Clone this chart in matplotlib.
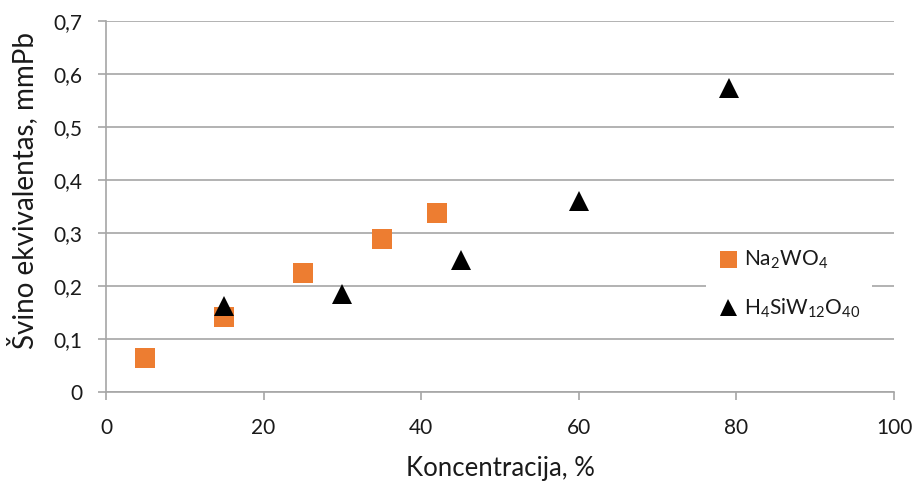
import matplotlib
matplotlib.use("Agg")
from matplotlib import pyplot as plt

# duomenys
na_x = [5, 15, 25, 35, 42]
na_y = [0.065, 0.142, 0.224, 0.289, 0.338]
h_x = [15, 30, 45, 60, 79]
h_y = [0.162, 0.184, 0.249, 0.361, 0.574]
y_ticks = [0, 0.1, 0.2, 0.3, 0.4, 0.5, 0.6, 0.7]
x_ticks = [0, 20, 40, 60, 80, 100]

plt.rcParams['font.family'] = ['Lato', 'DejaVu Sans']
plt.rcParams['mathtext.fontset'] = 'custom'
plt.rcParams['mathtext.rm'] = 'Lato'
plt.rcParams['mathtext.it'] = 'Lato:italic'
text_col = '#1a1a1a'
grid_col = '#a6a6a6'

fig = plt.figure(figsize=(9.16, 4.82), dpi=100)
ax = fig.add_axes([106 / 916, 90 / 482, 788 / 916, 371 / 482])

ax.plot(na_x, na_y, 's', color='#ed7d31', markersize=14.4, markeredgewidth=0,
        label=r'Na$\mathregular{_2}$WO$\mathregular{_4}$', zorder=3)
ax.plot(h_x, h_y, '^', color='black', markersize=14.4, markeredgewidth=0,
        label=r'H$\mathregular{_4}$SiW$\mathregular{_{12}}$O$\mathregular{_{40}}$', zorder=3)

ax.set_xlim(0, 100)
ax.set_ylim(0, 0.7)
ax.set_xticks(x_ticks)
ax.set_yticks(y_ticks)
ax.set_yticklabels([('%.1f' % v).replace('.', ',') if v else '0' for v in y_ticks])
ax.grid(axis='y', color=grid_col, linewidth=1.2)
ax.set_axisbelow(True)

for s in ['top', 'right']:
    ax.spines[s].set_visible(False)
for s in ['left', 'bottom']:
    ax.spines[s].set_color(grid_col)
    ax.spines[s].set_linewidth(1.2)
ax.tick_params(colors=grid_col, labelcolor=text_col, labelsize=15, length=5.5, width=1.2)
ax.tick_params(axis='y', pad=11.5)
ax.tick_params(axis='x', pad=13)

ax.set_xlabel('Koncentracija, %', fontsize=18.5, color=text_col, va='baseline')
ax.xaxis.set_label_coords(0.5, -0.226)
ax.set_ylabel('Švino ekvivalentas, mmPb', fontsize=20, color=text_col)
ax.yaxis.set_label_coords(-0.0863, 0.544)

leg = ax.legend(loc='center', bbox_to_anchor=(0.867, 0.29), fontsize=15,
                frameon=True, facecolor='white', edgecolor='none', framealpha=1,
                fancybox=False, markerscale=0.85, handlelength=0.9,
                handletextpad=0.3, labelspacing=1.2, borderpad=0.6)
for t in leg.get_texts():
    t.set_color(text_col)

fig.savefig('out.png', dpi=100)
